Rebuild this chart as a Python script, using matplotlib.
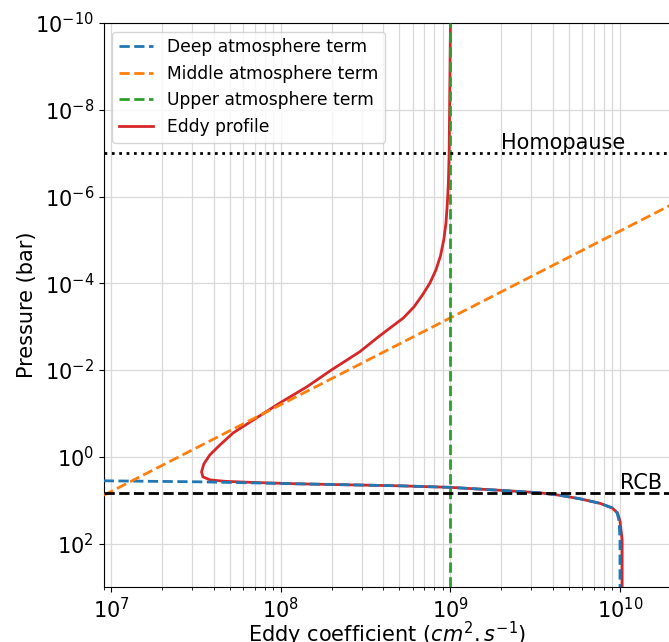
import matplotlib
matplotlib.use("Agg")
import matplotlib.pyplot as plt
from matplotlib.ticker import NullLocator

# values (pressure in bar, K in cm2/s)
deep_P = [3.57, 3.77, 4.19, 4.66, 5.05, 5.91, 6.75, 7.71, 9.28, 11.8, 15.0, 19.5, 29.8, 81, 1000]
deep_K = [9.0e6, 3.33e7, 1.26e8, 5.04e8, 9.93e8, 1.96e9, 3.37e9, 4.43e9, 5.81e9, 7.62e9,
          8.97e9, 9.61e9, 9.88e9, 1.0e10, 1.0e10]

mid_P = [1000, 1e-10]
mid_K = [7.9e5, 2.5e12]

upper_P = [1000, 1e-10]
upper_K = [1e9, 1e9]

eddy_P = [1e-10, 1e-7, 4.86e-7, 1.40e-6, 4.06e-6, 1.0e-5, 2.34e-5, 4.91e-5, 9.8e-5, 1.85e-4,
          3.5e-4, 6.27e-4, 1.63e-3, 3.81e-3, 9.89e-3, 0.0244, 0.057, 0.126, 0.28, 0.53,
          0.90, 1.45, 2.22, 2.89, 3.39, 3.67, 3.87, 4.19, 4.66, 5.05, 5.91, 6.75,
          7.71, 9.28, 11.8, 15.0, 19.5, 29.8, 81, 1000]
eddy_K = [1.0e9, 9.82e8, 9.72e8, 9.59e8, 9.41e8, 9.13e8, 8.73e8, 8.21e8, 7.57e8, 6.84e8,
          6.09e8, 5.28e8, 3.82e8, 2.91e8, 1.99e8, 1.42e8, 9.87e7, 7.19e7, 5.23e7, 4.37e7,
          3.81e7, 3.51e7, 3.40e7, 3.46e7, 3.81e7, 4.67e7, 6.56e7, 1.26e8, 5.04e8, 9.93e8,
          1.96e9, 3.37e9, 4.43e9, 5.81e9, 7.62e9, 8.97e9, 9.66e9, 1.0e10, 1.03e10, 1.03e10]

homopause_P = 1e-7
rcb_P = 6.8

fig = plt.figure(figsize=(6.69, 6.42), dpi=100)
ax = fig.add_axes([0.155, 0.0857, 0.848, 0.8785])

ax.plot(eddy_K, eddy_P, c='tab:red', lw=2, zorder=2, label='Eddy profile')
ax.plot(deep_K, deep_P, c='tab:blue', ls='--', lw=2, zorder=3, label='Deep atmosphere term')
ax.plot(mid_K, mid_P, c='tab:orange', ls='--', lw=2, zorder=3, label='Middle atmosphere term')
ax.plot(upper_K, upper_P, c='tab:green', ls='--', lw=2, zorder=3, label='Upper atmosphere term')

ax.axhline(homopause_P, c='k', ls=':', lw=2, zorder=4)
ax.axhline(rcb_P, c='k', ls='--', lw=2, zorder=4)
ax.text(2e9, homopause_P, 'Homopause', fontsize=15, va='bottom', ha='left')
ax.text(1e10, rcb_P, 'RCB', fontsize=15, va='bottom', ha='left')

ax.set_xscale('log')
ax.set_yscale('log')
ax.set_xlim(9e6, 2e10)
ax.set_ylim(1e3, 1e-10)
ax.yaxis.set_minor_locator(NullLocator())

ax.grid(True, which='both', axis='x', color='#d9d9d9', lw=0.9)
ax.grid(True, which='major', axis='y', color='#d9d9d9', lw=0.9)
ax.set_axisbelow(True)

ax.tick_params(labelsize=15)
ax.set_xlabel(r'Eddy coefficient ($cm^2.s^{-1}$)', fontsize=15, labelpad=-1.5)
ax.set_ylabel('Pressure (bar)', fontsize=15, labelpad=-1)

handles, labels = ax.get_legend_handles_labels()
order = [1, 2, 3, 0]
ax.legend([handles[i] for i in order], [labels[i] for i in order], loc='upper left', fontsize=12.3)

fig.savefig('out.png', dpi=100)
